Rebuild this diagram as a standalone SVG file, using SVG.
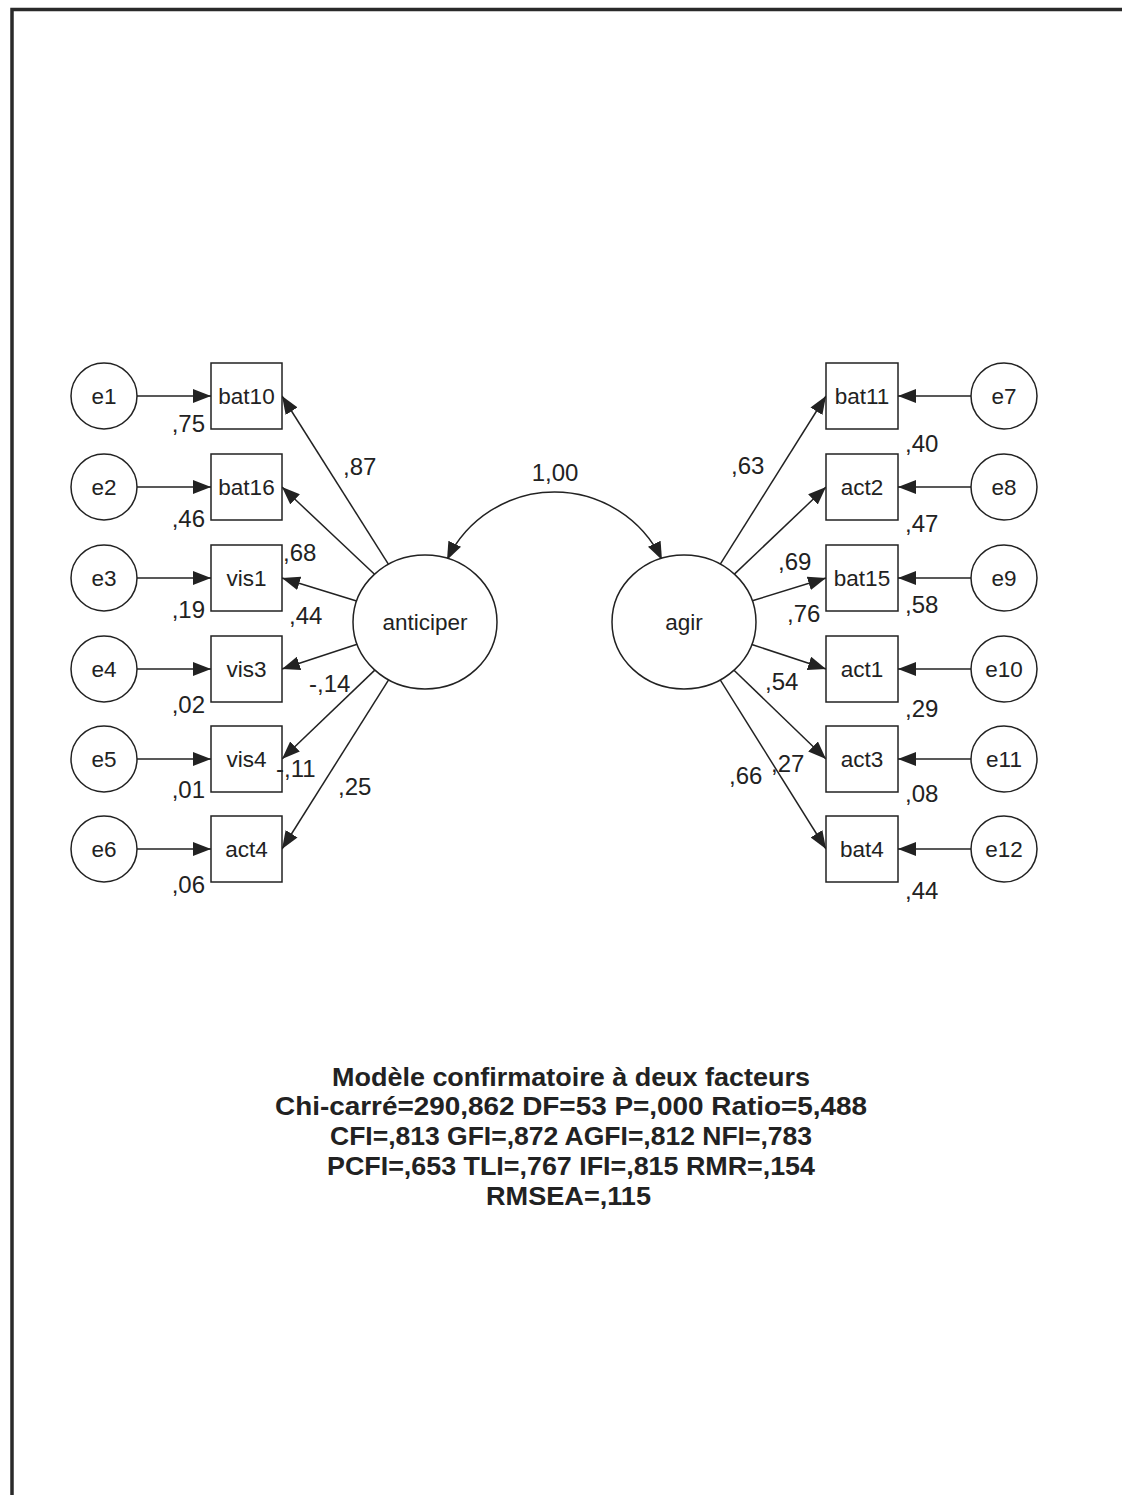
<svg xmlns="http://www.w3.org/2000/svg" width="1122" height="1495" viewBox="0 0 1122 1495">
<style>
.lbl{font-family:"Liberation Sans",Arial,sans-serif;font-size:24px;fill:#222}
.nt{font-family:"Liberation Sans",Arial,sans-serif;font-size:22.5px;fill:#222;text-anchor:middle}
.ttl{font-family:"Liberation Sans",Arial,sans-serif;font-size:25px;font-weight:bold;fill:#222;text-anchor:middle}
.shape{fill:#fff;stroke:#222;stroke-width:1.5}
.con{fill:none;stroke:#222;stroke-width:1.5}
</style>
<defs>
<marker id="ah" viewBox="0 0 18 14" refX="18" refY="7" markerWidth="18" markerHeight="14" markerUnits="userSpaceOnUse" orient="auto-start-reverse">
<path d="M0,0 L18,7 L0,14 z" fill="#222"/>
</marker>
</defs>
<rect width="1122" height="1495" fill="#fff"/>
<path d="M12,1495 V9.5 H1122" fill="none" stroke="#2a2a2a" stroke-width="3.5"/>

<g id="connectors">
<line class="con" x1="137" y1="396" x2="211" y2="396" marker-end="url(#ah)"/>
<line class="con" x1="137" y1="487" x2="211" y2="487" marker-end="url(#ah)"/>
<line class="con" x1="137" y1="578" x2="211" y2="578" marker-end="url(#ah)"/>
<line class="con" x1="137" y1="669" x2="211" y2="669" marker-end="url(#ah)"/>
<line class="con" x1="137" y1="759" x2="211" y2="759" marker-end="url(#ah)"/>
<line class="con" x1="137" y1="849" x2="211" y2="849" marker-end="url(#ah)"/>
<line class="con" x1="971" y1="396" x2="898" y2="396" marker-end="url(#ah)"/>
<line class="con" x1="971" y1="487" x2="898" y2="487" marker-end="url(#ah)"/>
<line class="con" x1="971" y1="578" x2="898" y2="578" marker-end="url(#ah)"/>
<line class="con" x1="971" y1="669" x2="898" y2="669" marker-end="url(#ah)"/>
<line class="con" x1="971" y1="759" x2="898" y2="759" marker-end="url(#ah)"/>
<line class="con" x1="971" y1="849" x2="898" y2="849" marker-end="url(#ah)"/>
<line class="con" x1="388.5" y1="564.3" x2="282" y2="396" marker-end="url(#ah)"/>
<line class="con" x1="374.5" y1="574.3" x2="282" y2="487" marker-end="url(#ah)"/>
<line class="con" x1="356.6" y1="601" x2="282" y2="578" marker-end="url(#ah)"/>
<line class="con" x1="357.1" y1="644.3" x2="282" y2="669" marker-end="url(#ah)"/>
<line class="con" x1="374.8" y1="670.1" x2="282" y2="759" marker-end="url(#ah)"/>
<line class="con" x1="388.6" y1="679.8" x2="282" y2="849" marker-end="url(#ah)"/>
<line class="con" x1="720.3" y1="564.2" x2="826" y2="396" marker-end="url(#ah)"/>
<line class="con" x1="734.4" y1="574.1" x2="826" y2="487" marker-end="url(#ah)"/>
<line class="con" x1="752.3" y1="600.8" x2="826" y2="578" marker-end="url(#ah)"/>
<line class="con" x1="751.8" y1="644.5" x2="826" y2="669" marker-end="url(#ah)"/>
<line class="con" x1="734" y1="670.2" x2="826" y2="759" marker-end="url(#ah)"/>
<line class="con" x1="720.2" y1="679.9" x2="826" y2="849" marker-end="url(#ah)"/>
<path class="con" d="M447,560 A119,119 0 0 1 662,560" marker-start="url(#ah)" marker-end="url(#ah)"/>
</g>

<g id="e1"><circle class="shape" cx="104" cy="396" r="33"/><text class="nt" x="104" y="404">e1</text></g>
<g id="e2"><circle class="shape" cx="104" cy="487" r="33"/><text class="nt" x="104" y="495">e2</text></g>
<g id="e3"><circle class="shape" cx="104" cy="578" r="33"/><text class="nt" x="104" y="586">e3</text></g>
<g id="e4"><circle class="shape" cx="104" cy="669" r="33"/><text class="nt" x="104" y="677">e4</text></g>
<g id="e5"><circle class="shape" cx="104" cy="759" r="33"/><text class="nt" x="104" y="767">e5</text></g>
<g id="e6"><circle class="shape" cx="104" cy="849" r="33"/><text class="nt" x="104" y="857">e6</text></g>

<g id="bat10"><rect class="shape" x="211" y="363" width="71" height="66"/><text class="nt" x="246.5" y="404">bat10</text></g>
<g id="bat16"><rect class="shape" x="211" y="454" width="71" height="66"/><text class="nt" x="246.5" y="495">bat16</text></g>
<g id="vis1"><rect class="shape" x="211" y="545" width="71" height="66"/><text class="nt" x="246.5" y="586">vis1</text></g>
<g id="vis3"><rect class="shape" x="211" y="636" width="71" height="66"/><text class="nt" x="246.5" y="677">vis3</text></g>
<g id="vis4"><rect class="shape" x="211" y="726" width="71" height="66"/><text class="nt" x="246.5" y="767">vis4</text></g>
<g id="act4"><rect class="shape" x="211" y="816" width="71" height="66"/><text class="nt" x="246.5" y="857">act4</text></g>

<g id="anticiper"><ellipse class="shape" cx="425" cy="622" rx="72" ry="67"/><text class="nt" x="425" y="630">anticiper</text></g>
<g id="agir"><ellipse class="shape" cx="684" cy="622" rx="72" ry="67"/><text class="nt" x="684" y="630">agir</text></g>

<g id="bat11"><rect class="shape" x="826" y="363" width="72" height="66"/><text class="nt" x="862" y="404">bat11</text></g>
<g id="act2"><rect class="shape" x="826" y="454" width="72" height="66"/><text class="nt" x="862" y="495">act2</text></g>
<g id="bat15"><rect class="shape" x="826" y="545" width="72" height="66"/><text class="nt" x="862" y="586">bat15</text></g>
<g id="act1"><rect class="shape" x="826" y="636" width="72" height="66"/><text class="nt" x="862" y="677">act1</text></g>
<g id="act3"><rect class="shape" x="826" y="726" width="72" height="66"/><text class="nt" x="862" y="767">act3</text></g>
<g id="bat4"><rect class="shape" x="826" y="816" width="72" height="66"/><text class="nt" x="862" y="857">bat4</text></g>

<g id="e7"><circle class="shape" cx="1004" cy="396" r="33"/><text class="nt" x="1004" y="404">e7</text></g>
<g id="e8"><circle class="shape" cx="1004" cy="487" r="33"/><text class="nt" x="1004" y="495">e8</text></g>
<g id="e9"><circle class="shape" cx="1004" cy="578" r="33"/><text class="nt" x="1004" y="586">e9</text></g>
<g id="e10"><circle class="shape" cx="1004" cy="669" r="33"/><text class="nt" x="1004" y="677">e10</text></g>
<g id="e11"><circle class="shape" cx="1004" cy="759" r="33"/><text class="nt" x="1004" y="767">e11</text></g>
<g id="e12"><circle class="shape" cx="1004" cy="849" r="33"/><text class="nt" x="1004" y="857">e12</text></g>

<g id="labels">
<text class="lbl" x="205" y="432" text-anchor="end">,75</text>
<text class="lbl" x="205" y="527" text-anchor="end">,46</text>
<text class="lbl" x="205" y="618" text-anchor="end">,19</text>
<text class="lbl" x="205" y="713" text-anchor="end">,02</text>
<text class="lbl" x="205" y="798" text-anchor="end">,01</text>
<text class="lbl" x="205" y="893" text-anchor="end">,06</text>
<text class="lbl" x="905" y="452">,40</text>
<text class="lbl" x="905" y="532">,47</text>
<text class="lbl" x="905" y="613">,58</text>
<text class="lbl" x="905" y="717">,29</text>
<text class="lbl" x="905" y="802">,08</text>
<text class="lbl" x="905" y="899">,44</text>
<text class="lbl" x="343" y="475">,87</text>
<text class="lbl" x="283" y="561">,68</text>
<text class="lbl" x="289" y="624">,44</text>
<text class="lbl" x="309" y="692">-,14</text>
<text class="lbl" x="276" y="777">-,11</text>
<text class="lbl" x="338" y="795">,25</text>
<text class="lbl" x="731" y="474">,63</text>
<text class="lbl" x="778" y="570">,69</text>
<text class="lbl" x="787" y="622">,76</text>
<text class="lbl" x="765" y="690">,54</text>
<text class="lbl" x="729" y="784">,66</text>
<text class="lbl" x="771" y="772">,27</text>
<text class="lbl" x="555" y="481" text-anchor="middle">1,00</text>
</g>

<g id="title">
<text class="ttl" x="571" y="1086" textLength="478" lengthAdjust="spacingAndGlyphs">Modèle confirmatoire à deux facteurs</text>
<text class="ttl" x="571" y="1115" textLength="592" lengthAdjust="spacingAndGlyphs">Chi-carré=290,862 DF=53 P=,000 Ratio=5,488</text>
<text class="ttl" x="571" y="1145" textLength="482" lengthAdjust="spacingAndGlyphs">CFI=,813 GFI=,872 AGFI=,812 NFI=,783</text>
<text class="ttl" x="571" y="1175" textLength="488" lengthAdjust="spacingAndGlyphs">PCFI=,653 TLI=,767 IFI=,815 RMR=,154</text>
<text class="ttl" x="568.5" y="1205" textLength="165" lengthAdjust="spacingAndGlyphs">RMSEA=,115</text>
</g>
</svg>
